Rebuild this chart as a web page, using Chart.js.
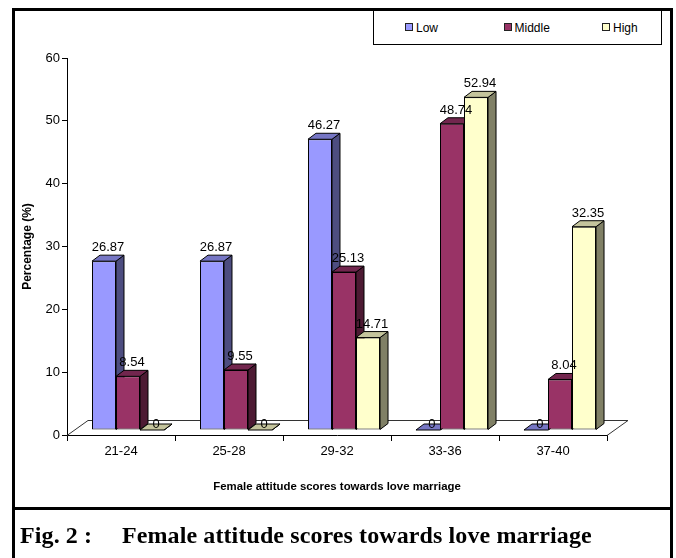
<!DOCTYPE html>
<html>
<head>
<meta charset="utf-8">
<title>Female attitude scores towards love marriage</title>
<script src="https://cdn.jsdelivr.net/npm/chart.js@4.4.1/dist/chart.umd.min.js"></script>
<style>
    html, body { margin: 0; padding: 0; background: #fff; }
    #page { position: relative; width: 676px; height: 558px; overflow: hidden; font-family: "Liberation Sans", Arial, sans-serif; }
    #frame { position: absolute; left: 12px; top: 8px; width: 655px; height: 600px; border: 3px solid #000; border-bottom: none; }
    #divider { position: absolute; left: 12px; top: 507px; width: 661px; height: 3px; background: #000; }
    #chart { position: absolute; left: 0; top: 0; }
    #legend { position: absolute; left: 373px; top: 10px; width: 287px; height: 33px; border: 1px solid #000; background: #fff; z-index: 2; }
    .legend-item { position: absolute; top: 10px; font-size: 12px; line-height: 14px; color: #000; white-space: nowrap; }
    .legend-box { display: inline-block; width: 6px; height: 6px; border: 1px solid #222; margin-right: 3px; vertical-align: 1px; }
    #caption { position: absolute; top: 523px; left: 0; width: 676px; height: 30px; font-family: "Liberation Serif", "Times New Roman", serif; font-weight: bold; font-size: 24px; line-height: 24px; color: #000; letter-spacing: 0.1px; }
    #caption span { position: absolute; top: 0; white-space: nowrap; }
</style>
</head>
<body>
<div id="page">
    <div id="frame"></div>
    <canvas id="chart" width="676" height="508"></canvas>
    <div id="legend"></div>
    <div id="divider"></div>
    <div id="caption"><span style="left:20px">Fig. 2 :</span><span style="left:122px">Female attitude scores towards love marriage</span></div>
</div>
<script>
// ===== Datos =====
const categories = ['21-24', '25-28', '29-32', '33-36', '37-40'];
const seriesNames = ['Low', 'Middle', 'High'];
const lowValues = [26.87, 26.87, 46.27, 0, 0];
const middleValues = [8.54, 9.55, 25.13, 48.74, 8.04];
const highValues = [0, 0, 14.71, 52.94, 32.35];
const yTicks = [0, 10, 20, 30, 40, 50, 60];

// colores de cada cara (frente, arriba, lado)
const frontColors = ['#9999FF', '#993366', '#FFFFCC'];
const topColors = ['#7676C4', '#72264E', '#C4C49C'];
const sideColors = ['#4D4D80', '#4D1A33', '#808066'];

// profundidad 3D
const DEPTH_X = 8, DEPTH_Y = 6;     // profundidad de cada barra
const SHIFT_X = 7, SHIFT_Y = 5;     // las barras están un poco atrás en el piso
const FLOOR_X = 21, FLOOR_Y = 15;   // profundidad del piso

Chart.defaults.font.family = '"Liberation Sans", Arial, sans-serif';
Chart.defaults.color = '#000';

function fillPoly(ctx, pts, color) {
    ctx.beginPath();
    ctx.moveTo(pts[0][0], pts[0][1]);
    for (let i = 1; i < pts.length; i++) ctx.lineTo(pts[i][0], pts[i][1]);
    ctx.closePath();
    ctx.fillStyle = color;
    ctx.fill();
    ctx.stroke();
}

// Plugin: piso, caras laterales y superiores, etiquetas
const bars3d = {
    id: 'bars3d',
    beforeDatasetsDraw(chart) {
        const ctx = chart.ctx;
        const { left, right, bottom } = chart.chartArea;

        ctx.save();
        ctx.strokeStyle = '#333';
        ctx.lineWidth = 1;
        ctx.beginPath();
        ctx.moveTo(left, bottom + 0.5);
        ctx.lineTo(left + FLOOR_X, bottom - FLOOR_Y + 0.5);
        ctx.lineTo(right + FLOOR_X, bottom - FLOOR_Y + 0.5);
        ctx.lineTo(right, bottom + 0.5);
        ctx.stroke();
        ctx.restore();

        // queda trasladado para que Chart.js dibuje los frentes
        ctx.save();
        ctx.translate(SHIFT_X, -SHIFT_Y);
        ctx.strokeStyle = '#000';
        ctx.lineWidth = 1;
        chart.data.datasets.forEach((ds, i) => {
            const meta = chart.getDatasetMeta(i);
            meta.data.forEach(bar => {
                const { x, y, base, width } = bar.getProps(['x', 'y', 'base', 'width'], true);
                const l = x - width / 2, r = x + width / 2;
                fillPoly(ctx, [[r, y], [r + DEPTH_X, y - DEPTH_Y], [r + DEPTH_X, base - DEPTH_Y], [r, base]], sideColors[i]);
                fillPoly(ctx, [[l, y], [l + DEPTH_X, y - DEPTH_Y], [r + DEPTH_X, y - DEPTH_Y], [r, y]], topColors[i]);
            });
        });
    },
    afterDatasetsDraw(chart) {
        const ctx = chart.ctx;
        ctx.restore();

        ctx.save();
        ctx.fillStyle = '#000';
        ctx.font = '13px "Liberation Sans", Arial, sans-serif';
        ctx.textAlign = 'center';
        ctx.textBaseline = 'alphabetic';
        chart.data.datasets.forEach((ds, i) => {
            const meta = chart.getDatasetMeta(i);
            meta.data.forEach((bar, j) => {
                const { x, y } = bar.getProps(['x', 'y'], true);
                const v = ds.data[j];
                // en Excel la etiqueta del cero queda sobre la cara plana
                const gap = v === 0 ? 2 : DEPTH_Y + 4;
                ctx.fillText(String(v), x + SHIFT_X + DEPTH_X / 2, y - SHIFT_Y - gap);
            });
        });
        ctx.restore();
    }
};

const seriesValues = [lowValues, middleValues, highValues];

const chart = new Chart(document.getElementById('chart'), {
    type: 'bar',
    data: {
        labels: categories,
        datasets: seriesNames.map((name, i) => ({
            label: name,
            data: seriesValues[i],
            backgroundColor: frontColors[i],
            borderColor: '#000',
            borderWidth: 1,
            borderSkipped: false,
            categoryPercentage: 0.667,
            barPercentage: 1,
            clip: false
        }))
    },
    options: {
        responsive: false,
        animation: false,
        devicePixelRatio: 1,
        layout: {
            padding: { left: 16, right: 69, top: 58, bottom: 0 }
        },
        plugins: {
            legend: { display: false },
            tooltip: { enabled: false }
        },
        scales: {
            x: {
                grid: { offset: true, drawOnChartArea: false, drawTicks: true, tickLength: 6, color: '#000' },
                border: { display: true, color: '#000' },
                ticks: { color: '#000', font: { size: 13 }, padding: 3 },
                title: {
                    display: true,
                    text: 'Female attitude scores towards love marriage',
                    color: '#000',
                    font: { size: 11.4, weight: 'bold' },
                    padding: { top: 4, bottom: 14 }
                },
                afterFit(scale) { scale.height = 73; }
            },
            y: {
                min: yTicks[0],
                max: yTicks[yTicks.length - 1],
                afterBuildTicks(scale) { scale.ticks = yTicks.map(v => ({ value: v })); },
                grid: { drawOnChartArea: false, drawTicks: true, tickLength: 5, color: '#000' },
                border: { display: true, color: '#000' },
                ticks: { color: '#000', font: { size: 13 }, padding: 2 },
                title: {
                    display: true,
                    text: 'Percentage (%)',
                    color: '#000',
                    font: { size: 12, weight: 'bold' },
                    padding: { top: 4, bottom: 0 }
                },
                afterFit(scale) { scale.width = 51; }
            }
        }
    },
    plugins: [bars3d]
});

// Leyenda en HTML
const legendEl = document.getElementById('legend');
seriesNames.forEach((name, i) => {
    const item = document.createElement('div');
    item.className = 'legend-item';
    item.style.left = (31 + i * 98.5) + 'px';
    const box = document.createElement('span');
    box.className = 'legend-box';
    box.style.background = frontColors[i];
    item.appendChild(box);
    item.appendChild(document.createTextNode(name));
    legendEl.appendChild(item);
});
</script>
</body>
</html>
